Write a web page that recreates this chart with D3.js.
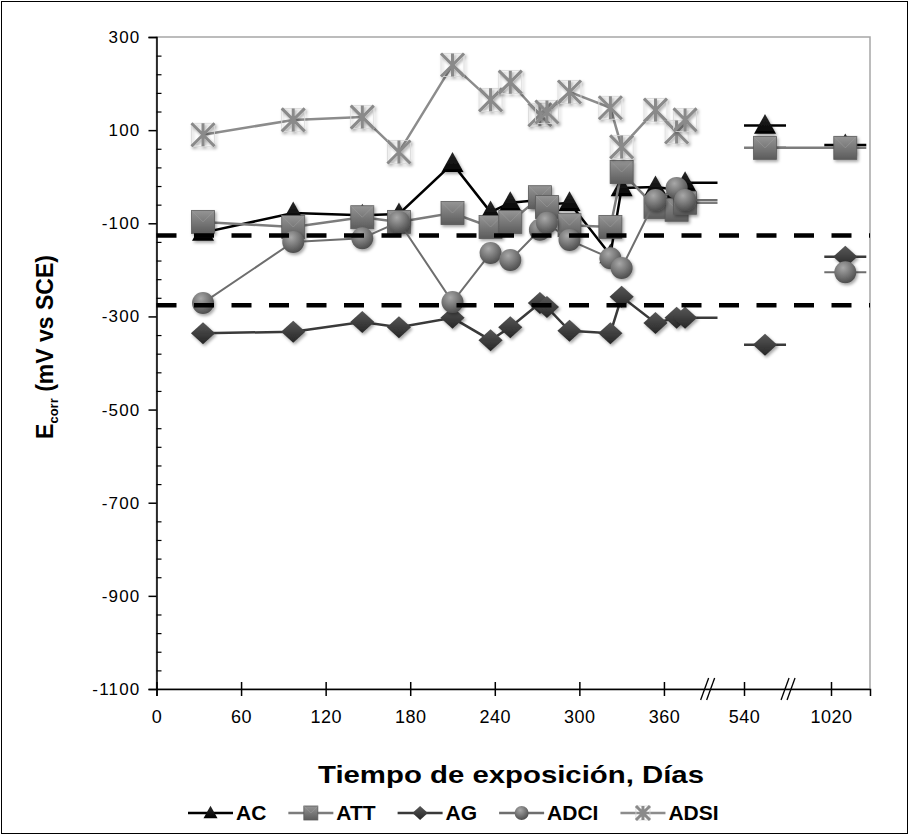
<!DOCTYPE html>
<html>
<head>
<meta charset="utf-8">
<script src="https://cdn.jsdelivr.net/npm/d3@7"></script>
<style>
  body { margin: 0; background: #fff; }
  svg { display: block; }
</style>
</head>
<body>
<div id="chart-area"></div>
<script>
// data (days of exposure, Ecorr in mV vs SCE)
var days = [33, 97, 146, 172, 210, 237, 251, 272, 277, 293, 322, 330, 354, 369, 375, 656, 1042];
var ac   = [-120, -78, -83, -80, 28, -76, -56, -50, -60, -56, -168, -24, -22, -28, -13, 110, 68];
var att  = [-97, -108, -87, -97, -78, -108, -97, -44, -65, -104, -108, 10, -65, -71, -56, 62, 62];
var ag   = [-336, -333, -312, -323, -303, -351, -323, -271, -280, -331, -336, -258, -314, -303, -303, -361, -172];
var adci = [-271, -140, -132, -97, -269, -164, -179, -114, -99, -136, -175, -196, -50, -24, -50, null, -205];
var adsi = [90, 122, 128, 53, 240, 165, 203, 133, 139, 182, 148, 64, 143, 96, 122, null, null];
var limits = [-126, -276];
var xTicks = [0, 60, 120, 180, 240, 300, 360, 540, 1020];
var yTicks = [-1100, -900, -700, -500, -300, -100, 100, 300];
var seriesNames = ["AC", "ATT", "AG", "ADCI", "ADSI"];

var width = 910, height = 835;
var plot = {left: 156.5, right: 870, top: 37, bottom: 689};

var svg = d3.select("#chart-area").append("svg")
    .attr("width", width)
    .attr("height", height);

var defs = svg.append("defs");

// soft shadow under the markers
var f = defs.append("filter").attr("id", "shadow")
    .attr("x", "-50%").attr("y", "-50%").attr("width", "200%").attr("height", "200%");
f.append("feDropShadow").attr("dx", 1.5).attr("dy", 2).attr("stdDeviation", 1.5)
    .attr("flood-color", "#000").attr("flood-opacity", 0.35);

function linGrad(id, c1, c2) {
    var g = defs.append("linearGradient").attr("id", id)
        .attr("x1", 0).attr("y1", 0).attr("x2", 0).attr("y2", 1);
    g.append("stop").attr("offset", "0%").attr("stop-color", c1);
    g.append("stop").attr("offset", "100%").attr("stop-color", c2);
}
linGrad("gSquare", "#959595", "#5c5c5c");
linGrad("gDiamond", "#585858", "#262626");
linGrad("gTri", "#2a2a2a", "#000");
var rg = defs.append("radialGradient").attr("id", "gCircle")
    .attr("cx", "40%").attr("cy", "30%").attr("r", "70%");
rg.append("stop").attr("offset", "0%").attr("stop-color", "#a8a8a8");
rg.append("stop").attr("offset", "100%").attr("stop-color", "#4e4e4e");

// broken axis: piecewise scale
var x = d3.scaleLinear()
    .domain([0, 398, 540, 1020, 1080])
    .range([plot.left, 717.5, 744, 831, plot.right]);
var y = d3.scaleLinear()
    .domain([-1100, 300])
    .range([plot.bottom, plot.top]);

// visible pieces of the plot after the breaks
var clip = defs.append("clipPath").attr("id", "seg2");
[[540, 777], [970, 1080]].forEach(function(s) {
    clip.append("rect")
        .attr("x", x(s[0])).attr("y", 0)
        .attr("width", x(s[1]) - x(s[0])).attr("height", height);
});

// chart frame
svg.append("rect")
    .attr("x", 1.5).attr("y", 1.5)
    .attr("width", width - 4).attr("height", height - 3)
    .attr("fill", "#fff").attr("stroke", "#000");

svg.append("rect")
    .attr("x", plot.left).attr("y", plot.top)
    .attr("width", plot.right - plot.left).attr("height", plot.bottom - plot.top)
    .attr("fill", "none").attr("stroke", "#a6a6a6").attr("stroke-width", 1.5);

// marker shapes
function square(g, s) {
    g.append("rect").attr("x", -s).attr("y", -s).attr("width", 2 * s).attr("height", 2 * s)
        .attr("fill", "url(#gSquare)").attr("stroke", "#5a5a5a").attr("stroke-width", 0.8);
    g.append("path").attr("d", "M" + (-s) + "," + (-s) + "L0,0L" + s + "," + (-s))
        .attr("fill", "none").attr("stroke", "#a0a0a0").attr("stroke-width", 0.8).attr("opacity", 0.6);
}
function triangle(g, s) {
    g.append("path").attr("d", "M0," + (-s * 1.05) + "L" + s + "," + (s * 0.75) + "L" + (-s) + "," + (s * 0.75) + "Z")
        .attr("fill", "url(#gTri)");
}
function diamond(g, s) {
    g.append("path").attr("d", "M0," + (-s) + "L" + (s * 1.1) + ",0L0," + s + "L" + (-s * 1.1) + ",0Z")
        .attr("fill", "url(#gDiamond)");
}
function circle(g, s) {
    g.append("circle").attr("r", s).attr("fill", "url(#gCircle)");
}
function star(g, s) {
    g.append("rect").attr("x", -s).attr("y", -s).attr("width", 2 * s).attr("height", 2 * s)
        .attr("fill", "none").attr("stroke", "#d6d6d6").attr("stroke-width", 0.8);
    g.append("path")
        .attr("d", "M" + (-s) + "," + (-s) + "L" + s + "," + s + "M" + s + "," + (-s) + "L" + (-s) + "," + s +
              "M0," + (-s) + "L0," + s)
        .attr("stroke", "#8a8a8a").attr("stroke-width", 3).attr("fill", "none");
}

var series = [
    {name: seriesNames[0], values: ac,   line: "#000",    width: 2.5, shape: triangle, size: 11, join: false},
    {name: seriesNames[1], values: att,  line: "#7c7c7c", width: 2.5, shape: square,   size: 11.5, join: true},
    {name: seriesNames[2], values: ag,   line: "#3a3a3a", width: 2.5, shape: diamond,  size: 11, join: false},
    {name: seriesNames[3], values: adci, line: "#6e6e6e", width: 2,   shape: circle,   size: 11, join: false},
    {name: seriesNames[4], values: adsi, line: "#8c8c8c", width: 2.5, shape: star,     size: 11.5, join: false}
];

var line = d3.line()
    .x(function(d) { return x(d.day); })
    .y(function(d) { return y(d.v); });

series.forEach(function(s) {
    var pts = days.map(function(d, i) { return {day: d, v: s.values[i]}; })
        .filter(function(p) { return p.v !== null; });
    var early = pts.filter(function(p) { return p.day < 540; });
    var late = pts.filter(function(p) { return p.day >= 540; });
    var g = svg.append("g").attr("class", "series");
    // first part of the axis
    g.append("path")
        .datum(early)
        .attr("d", line)
        .attr("fill", "none")
        .attr("stroke", s.line)
        .attr("stroke-width", s.width);
    if (late.length) {
        // line runs on up to the break
        var last = early[early.length - 1];
        g.append("line")
            .attr("x1", x(last.day)).attr("x2", x(398))
            .attr("y1", y(last.v)).attr("y2", y(last.v))
            .attr("stroke", s.line)
            .attr("stroke-width", s.width);
    }
    // after the breaks: short stubs through each point
    g.selectAll(".stub")
        .data(late)
        .enter().append("line")
        .attr("class", "stub")
        .attr("clip-path", "url(#seg2)")
        .attr("x1", function(p) { return x(p.day) - 21; })
        .attr("x2", function(p) { return x(p.day) + 21; })
        .attr("y1", function(p) { return y(p.v); })
        .attr("y2", function(p) { return y(p.v); })
        .attr("stroke", s.line)
        .attr("stroke-width", s.width);
    if (s.join && late.length > 1) {
        g.append("path")
            .datum(late)
            .attr("d", line)
            .attr("fill", "none")
            .attr("stroke", s.line)
            .attr("stroke-width", s.width);
    }
    g.selectAll(".mk")
        .data(pts)
        .enter().append("g")
        .attr("class", "mk")
        .attr("filter", "url(#shadow)")
        .attr("transform", function(p) { return "translate(" + x(p.day) + "," + y(p.v) + ")"; })
        .each(function() { s.shape(d3.select(this), s.size); });
});

// reference limits (dashed)
svg.selectAll(".limit")
    .data(limits)
    .enter().append("line")
    .attr("x1", plot.left).attr("x2", plot.right)
    .attr("y1", function(d) { return y(d); })
    .attr("y2", function(d) { return y(d); })
    .attr("stroke", "#000")
    .attr("stroke-width", 4.5)
    .attr("stroke-dasharray", "20,17.5");

// y axis
var yAxis = svg.append("g")
    .attr("transform", "translate(" + plot.left + ",0)")
    .call(d3.axisLeft(y).tickValues(yTicks).tickSize(8).tickPadding(8)
        .tickFormat(function(d) { return String(d); }));
yAxis.select(".domain").attr("stroke-width", 1.5);
yAxis.selectAll(".tick line").attr("stroke-width", 1.5);
yAxis.selectAll("text")
    .style("font-family", "'Liberation Sans', Arial, sans-serif")
    .style("font-size", "17px")
    .style("letter-spacing", "1.2px")
    .attr("fill", "#000");

var minor = d3.range(-1100, 300, 40).filter(function(d) { return (d + 1100) % 200 !== 0; });
svg.append("g")
    .attr("transform", "translate(" + plot.left + ",0)")
    .call(d3.axisRight(y).tickValues(minor).tickSize(5).tickFormat(""))
    .call(function(g) { g.select(".domain").remove(); })
    .selectAll("line").attr("stroke-width", 1.2);

// x axis
var xAxis = svg.append("g")
    .attr("transform", "translate(0," + plot.bottom + ")")
    .call(d3.axisBottom(x).tickValues(xTicks).tickSize(7).tickPadding(14)
        .tickFormat(function(d) { return String(d); }));
xAxis.select(".domain").attr("stroke-width", 1.5);
xAxis.selectAll(".tick line").attr("y1", -7).attr("stroke-width", 1.5);
xAxis.selectAll("text")
    .style("font-family", "'Liberation Sans Narrow', 'Liberation Sans', Arial, sans-serif")
    .style("font-size", "18px")
    .style("letter-spacing", "0.5px")
    .attr("fill", "#000");

// axis break marks
[391, 783].forEach(function(b) {
    [-3, 3].forEach(function(o) {
        svg.append("line")
            .attr("x1", x(b) + o - 4).attr("y1", plot.bottom + 11)
            .attr("x2", x(b) + o + 4).attr("y2", plot.bottom - 11)
            .attr("stroke", "#000").attr("stroke-width", 1.3);
    });
});

// axis titles
svg.append("text")
    .attr("x", 511).attr("y", 783)
    .attr("text-anchor", "middle")
    .attr("textLength", 386).attr("lengthAdjust", "spacingAndGlyphs")
    .style("font-family", "'Liberation Sans', Arial, sans-serif")
    .style("font-weight", "bold").style("font-size", "24px")
    .text("Tiempo de exposición, Días");

var yt = svg.append("text")
    .attr("transform", "translate(53,347) rotate(-90)")
    .attr("text-anchor", "middle")
    .style("font-family", "'Liberation Sans', Arial, sans-serif")
    .style("font-weight", "bold").style("font-size", "23px");
yt.append("tspan").text("E");
yt.append("tspan").attr("dy", 5)
    .style("font-size", "13px").style("font-family", "'Liberation Sans Narrow', 'Liberation Sans', sans-serif")
    .text("corr");
yt.append("tspan").attr("dy", -5).text(" (mV vs SCE)");

// legend
var legend = svg.append("g").attr("transform", "translate(0,813)");
var lx = 188;
series.forEach(function(s) {
    var item = legend.append("g").attr("transform", "translate(" + lx + ",0)");
    item.append("line").attr("x1", 0).attr("x2", 45)
        .attr("stroke", s.line).attr("stroke-width", 2.5);
    var mk = item.append("g").attr("transform", "translate(22.5,0)");
    s.shape(mk, 7);
    var t = item.append("text")
        .attr("x", 48).attr("dy", "0.35em")
        .style("font-family", "'Liberation Sans', Arial, sans-serif")
        .style("font-weight", "bold").style("font-size", "21px")
        .text(s.name);
    lx += 48 + t.node().getComputedTextLength() + 22;
});
</script>
</body>
</html>
